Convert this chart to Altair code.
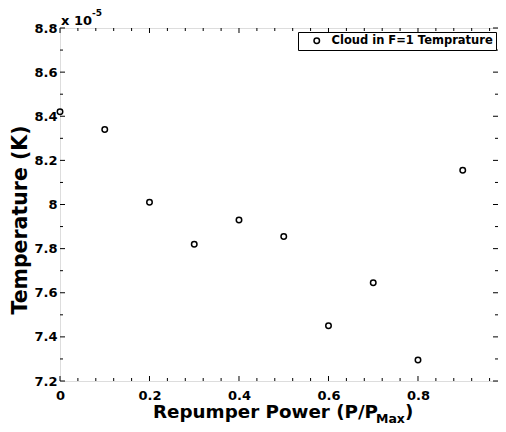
import altair as alt
import pandas as pd

# ---- data ----
power = [0.0, 0.1, 0.2, 0.3, 0.4, 0.5, 0.6, 0.7, 0.8, 0.9, 1.0]
temp_e5 = [8.42, 8.34, 8.01, 7.82, 7.93, 7.855, 7.45, 7.645, 7.295, 8.155, 7.93]
series_name = "Cloud in F=1 Temprature"

x_major = [0.0, 0.2, 0.4, 0.6, 0.8, 1.0]
x_minor = [0.04, 0.08, 0.12, 0.16, 0.24, 0.28, 0.32, 0.36, 0.44, 0.48, 0.52, 0.56,
           0.64, 0.68, 0.72, 0.76, 0.84, 0.88, 0.92, 0.96]
y_major = [7.2, 7.4, 7.6, 7.8, 8.0, 8.2, 8.4, 8.6, 8.8]
y_minor = [7.3, 7.5, 7.7, 7.9, 8.1, 8.3, 8.5, 8.7]

W, H = 438, 353
X_MAX = 0.9788  # the reference's frame runs just past the picture's right edge
FONT = "DejaVu Sans"
MAJ, MIN = 5, 3

df = pd.DataFrame({"power": power, "temp": temp_e5, "series": [series_name] * len(power)})
xs = alt.Scale(domain=[0, X_MAX], nice=False, zero=False)
ys = alt.Scale(domain=[7.2, 8.8], nice=False, zero=False)

xa = alt.Axis(values=x_major, format=".1~f", title=None, ticks=False, domain=False, grid=False,
              labelFont=FONT, labelFontSize=13, labelFontWeight="bold", labelColor="black",
              labelPadding=8, labelFlush=False, labelOverlap=False)
ya = alt.Axis(values=y_major, format=".1~f", title=None, ticks=False, domain=False, grid=False,
              labelFont=FONT, labelFontSize=13, labelFontWeight="bold", labelColor="black",
              labelPadding=3, labelFlush=False, labelOverlap=False)

points = alt.Chart(df).mark_point(shape="circle", filled=False, size=30, strokeWidth=1.5, opacity=1).encode(
    x=alt.X("power:Q", scale=xs, axis=xa),
    y=alt.Y("temp:Q", scale=ys, axis=ya),
    color=alt.Color("series:N", scale=alt.Scale(range=["black"]),
                    legend=alt.Legend(title=None, orient="none", legendX=238, legendY=4,
                                      strokeColor="black", fillColor="white", padding=3,
                                      symbolType="circle", symbolSize=30, symbolStrokeWidth=1.5,
                                      symbolFillColor="white", symbolStrokeColor="black",
                                      symbolOffset=10, labelOffset=9,
                                      labelFont=FONT, labelFontSize=11.5, labelFontWeight="bold",
                                      labelColor="black", labelLimit=0)),
)


def xticks(vals, y0, y1):
    d = pd.DataFrame({"power": vals})
    return alt.Chart(d).mark_rule(color="black", strokeWidth=1).encode(
        x=alt.X("power:Q", scale=xs, axis=xa), y=alt.value(y0), y2=alt.value(y1))


def yticks(vals, x0, x1):
    d = pd.DataFrame({"temp": vals})
    return alt.Chart(d).mark_rule(color="black", strokeWidth=1).encode(
        y=alt.Y("temp:Q", scale=ys, axis=ya), x=alt.value(x0), x2=alt.value(x1))


tick_layers = [
    xticks(x_major, H, H - MAJ), xticks(x_minor, H, H - MIN),
    xticks(x_major, 0, MAJ), xticks(x_minor, 0, MIN),
    yticks(y_major, 0, MAJ), yticks(y_minor, 0, MIN),
    yticks(y_major, W, W - MAJ), yticks(y_minor, W, W - MIN),
]

one = pd.DataFrame({"a": [0]})


def txt(s, x, y, size, align="left", angle=0):
    return alt.Chart(one).mark_text(text=s, font=FONT, fontSize=size, fontWeight="bold", color="black",
                                    align=align, baseline="alphabetic", angle=angle).encode(
        x=alt.value(x), y=alt.value(y))


texts = [
    txt("x 10", 1, -3, 13),
    txt("-5", 32, -12, 9),
    txt("Repumper Power (P/P", 318, 390, 18.3, align="right"),
    txt("Max", 316, 394.5, 12.5),
    txt(")", 345, 390, 18.3),
    txt("Temperature (K)", -33, 192, 20.5, align="center", angle=270),
]

chart = alt.layer(points, *tick_layers, *texts).properties(
    width=W, height=H,
    autosize=alt.AutoSizeParams(type="none"),
    padding={"left": 52, "top": 20, "right": 0, "bottom": 43},
).configure_view(stroke="black", strokeWidth=2).configure(background="white")

chart.save("out.html", embed_options={"renderer": "svg", "actions": False})
